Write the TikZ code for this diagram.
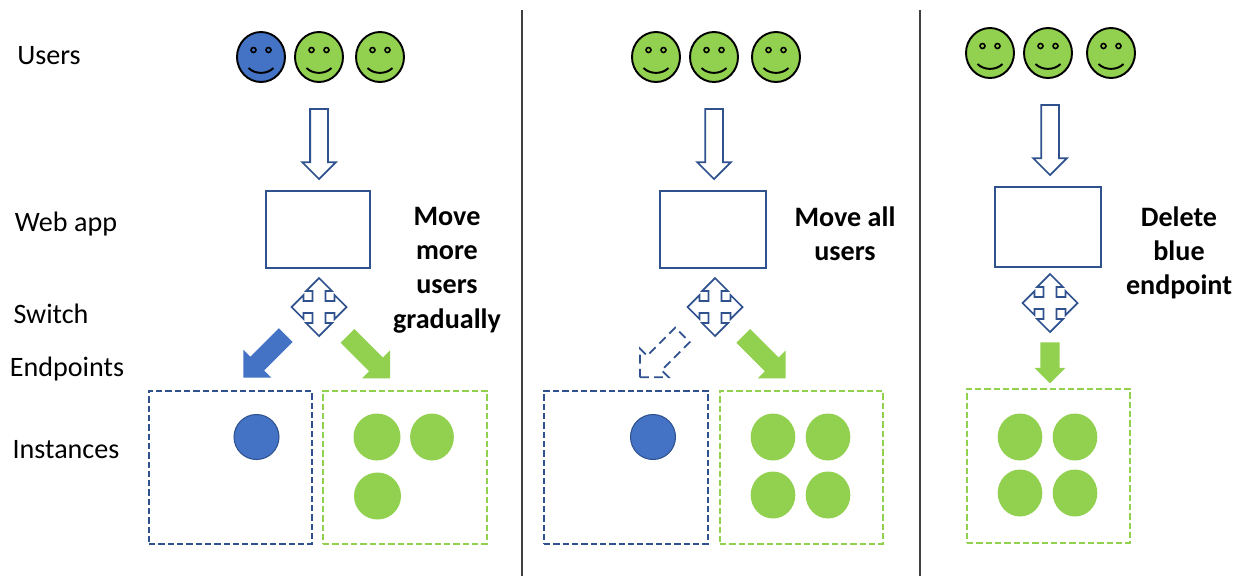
\documentclass[tikz,border=0pt]{standalone}
\usepackage{fontspec}
\setmainfont{Carlito}
\usepackage{tikz}
\usetikzlibrary{shapes.arrows}
\definecolor{bluefill}{RGB}{68,114,196}
\definecolor{blueline}{RGB}{47,82,143}
\definecolor{greenfill}{RGB}{146,208,80}
\tikzstyle{caption}=[font=\fontsize{16}{19.5}\selectfont, align=center, inner sep=0pt]
\tikzstyle{note}=[caption, font=\fontsize{16}{19.5}\selectfont\bfseries]
\tikzstyle{tier}=[rectangle, draw=blueline, line width=1pt, inner sep=0pt]
\tikzstyle{bluebox}=[tier, dash pattern=on 3.6pt off 1.7pt]
\tikzstyle{greenbox}=[bluebox, draw=greenfill]
\tikzstyle{blueinst}=[circle, draw=blueline, fill=bluefill, line width=0.6pt, minimum size=0.9cm, inner sep=0pt]
\tikzstyle{greeninst}=[circle, fill=greenfill, minimum size=0.94cm, inner sep=0pt]
\tikzstyle{narrowinst}=[greeninst, xscale=0.95]
\tikzstyle{block}=[single arrow, single arrow tip angle=90, single arrow head indent=0pt, inner xsep=0pt, outer sep=0pt, anchor=tip]
\tikzstyle{userarrow}=[block, draw=blueline, fill=white, line width=1pt, rotate=-90, inner ysep=0.16cm, minimum height=1.4cm, single arrow head extend=0.16cm]
\tikzstyle{routearrow}=[block, inner ysep=0.187cm, minimum height=1.2cm, single arrow head extend=0.2cm]
\tikzset{
  face/.pic={
    \draw[black, line width=1.1pt, fill=#1] (0,0) ellipse [x radius=24, y radius=25];
    \draw[black, line width=0.9pt] (-7.5,-7) circle [radius=2.5] (7.5,-7) circle [radius=2.5];
    \draw[black, line width=1.1pt] (-12.5,11) .. controls (-6,17.5) and (6,17.5) .. (12.5,11);
  },
  switch/.pic={
    \draw[blueline, line width=1pt, fill=white] (0,-29) -- (13,-16) -- (6.5,-16) -- (6.5,-6) -- (15.5,-6) -- (15.5,-12) -- (27.5,0)
      -- (15.5,12) -- (15.5,6) -- (6.5,6) -- (6.5,16) -- (13,16) -- (0,29) -- (-13,16) -- (-6.5,16) -- (-6.5,6) -- (-15.5,6) -- (-15.5,12) -- (-27.5,0)
      -- (-15.5,-12) -- (-15.5,-6) -- (-6.5,-6) -- (-6.5,-16) -- (-13,-16) -- cycle;
  }
}

\begin{document}
\begin{tikzpicture}[x=0.02cm, y=-0.02cm]
  \useasboundingbox (0,0) rectangle (1244,576);

  % row labels
  \node[caption] (users) at (49,56) {Users};
  \node[caption] (webapp) at (66,224) {Web app};
  \node[caption] (switch) at (51,314) {Switch};
  \node[caption] (endpoints) at (67,369) {Endpoints};
  \node[caption] (instances) at (66,450) {Instances};

  % dividers
  \coordinate (d0) at (522,10);
  \coordinate (d1) at (522,576);
  \coordinate (d2) at (920,10);
  \coordinate (d3) at (920,576);
  \draw[black!75, line width=1.1pt] (d0) -- (d1);
  \draw[black!75, line width=1.1pt] (d2) -- (d3);

  % first step
  \pic at (261,57) {face=bluefill};
  \pic at (319,57) {face=greenfill};
  \pic at (380,57) {face=greenfill};
  \node[userarrow] (a1) at (319,179) {};
  \node[tier, minimum width=2.08cm, minimum height=1.54cm] (w1) at (318,229.5) {};
  \pic at (319,307) {switch};
  \node[routearrow, fill=bluefill, rotate=225] (b1) at (243.3,377.5) {};
  \node[routearrow, fill=greenfill, rotate=-45] (g1) at (390,378.3) {};
  \node[bluebox, minimum width=3.26cm, minimum height=3.06cm] (eb1) at (230.5,467.5) {};
  \node[greenbox, minimum width=3.28cm, minimum height=3.06cm] (eg1) at (405,467.5) {};
  \node[blueinst] (ib1) at (256.5,437) {};
  \node[greeninst] (ig1) at (377,437) {};
  \node[narrowinst, xscale=0.98] (ig2) at (432,437) {};
  \node[greeninst] (ig3) at (377.5,496) {};
  \node[note] (n1) at (447,270) {Move\\more\\users\\gradually};

  % second step
  \pic at (656,57) {face=greenfill};
  \pic at (714,57) {face=greenfill};
  \pic at (776,57) {face=greenfill};
  \node[userarrow] (a2) at (714,179) {};
  \node[tier, minimum width=2.12cm, minimum height=1.54cm] (w2) at (713,229.5) {};
  \pic at (715,307) {switch};
  \node[routearrow, draw=blueline, line width=1pt, dash pattern=on 5pt off 3pt, rotate=225] (b2) at (640,377.3) {};
  \node[routearrow, fill=greenfill, rotate=-45] (g2) at (785.7,378.3) {};
  \node[bluebox, minimum width=3.28cm, minimum height=3.06cm] (eb2) at (626,467.5) {};
  \node[greenbox, minimum width=3.26cm, minimum height=3.06cm] (eg2) at (801.5,467.5) {};
  \node[blueinst] (ib2) at (653,437) {};
  \node[narrowinst] (ig4) at (773,437) {};
  \node[narrowinst] (ig5) at (828,437) {};
  \node[narrowinst] (ig6) at (773,495) {};
  \node[narrowinst] (ig7) at (828,495) {};
  \node[note] (n2) at (845,234) {Move all\\users};

  % third step
  \pic at (990,53) {face=greenfill};
  \pic at (1048,53) {face=greenfill};
  \pic at (1111,53) {face=greenfill};
  \node[userarrow] (a3) at (1050,175) {};
  \node[tier, minimum width=2.12cm, minimum height=1.6cm] (w3) at (1048,227) {};
  \pic at (1050,303) {switch};
  \node[block, fill=greenfill, rotate=-90, inner ysep=0.187cm, minimum height=0.82cm, single arrow head extend=0.114cm] (g3) at (1050,383.3) {};
  \node[greenbox, minimum width=3.26cm, minimum height=3.08cm] (eg3) at (1048.5,466) {};
  \node[narrowinst] (ig8) at (1020,437) {};
  \node[narrowinst] (ig9) at (1075,437) {};
  \node[narrowinst] (ig10) at (1020,493) {};
  \node[narrowinst] (ig11) at (1075,493) {};
  \node[note] (n3) at (1179,253) {Delete\\blue\\endpoint};
\end{tikzpicture}
\end{document}
